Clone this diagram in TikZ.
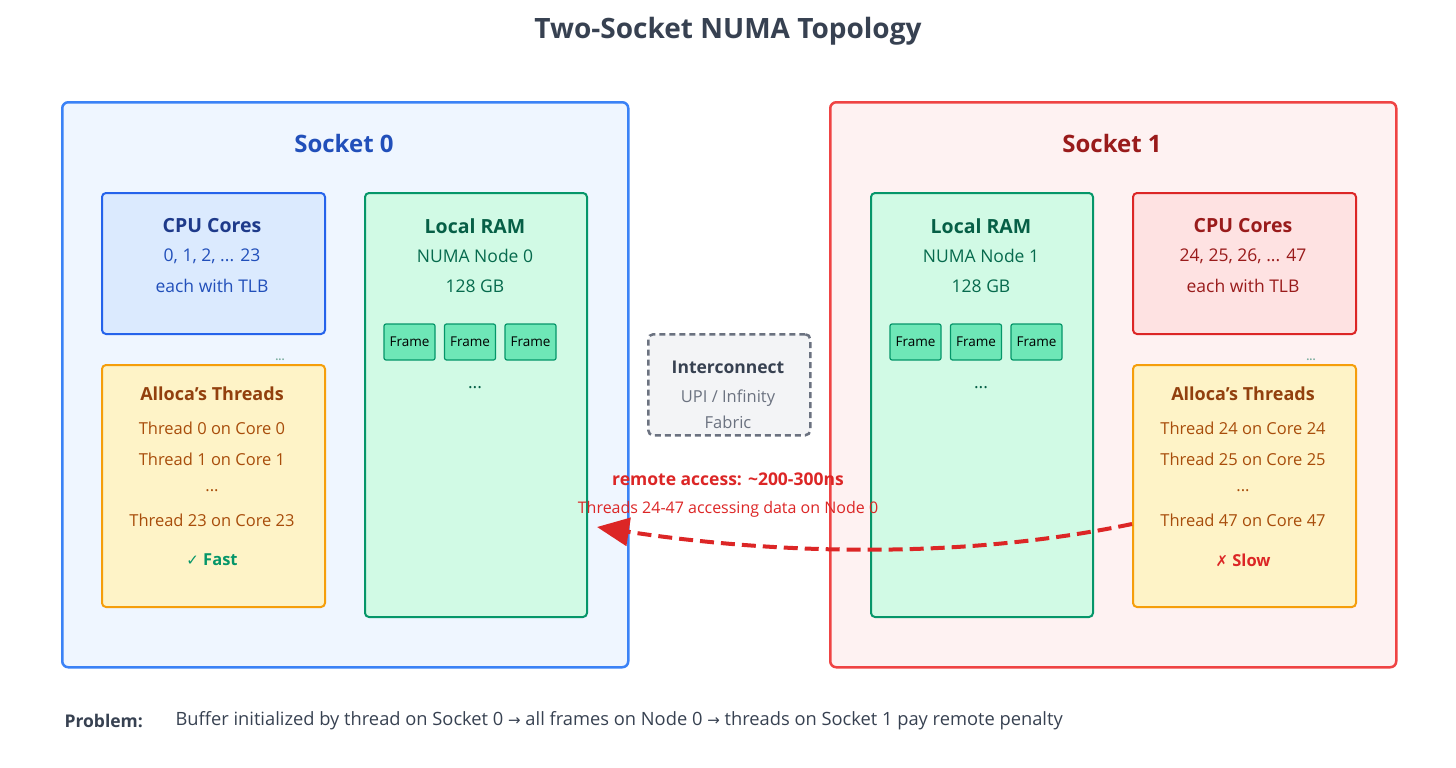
\documentclass[tikz,border=0pt]{standalone}
\usepackage{fontspec}
\setmainfont{Open Sans}
\newfontfamily\symf{DejaVu Sans}
\usetikzlibrary{arrows.meta}
\definecolor{sbB}{HTML}{3B82F6}\definecolor{sfB}{HTML}{EFF6FF}
\definecolor{sbR}{HTML}{EF4444}\definecolor{sfR}{HTML}{FEF2F2}
\definecolor{cbB}{HTML}{2563EB}\definecolor{cfB}{HTML}{DBEAFE}
\definecolor{cbR}{HTML}{DC2626}\definecolor{cfR}{HTML}{FEE2E2}
\definecolor{tb}{HTML}{F59E0B}\definecolor{tf}{HTML}{FEF3C7}
\definecolor{rb}{HTML}{059669}\definecolor{rf}{HTML}{D1FAE5}
\definecolor{ff}{HTML}{6EE7B7}
\definecolor{txB}{HTML}{1E3A8A}\definecolor{txR}{HTML}{991B1B}
\definecolor{txO}{HTML}{92400E}\definecolor{txG}{HTML}{065F46}
\definecolor{gr}{HTML}{6B7280}\definecolor{grf}{HTML}{F3F4F6}
\definecolor{dk}{HTML}{374151}
\newcommand{\fs}[1]{\fontsize{#1}{#1}\selectfont}
\tikzset{
 box/.style={rounded corners=6pt,line width=2.5pt,anchor=north west,inner sep=0pt},
 sub/.style={rounded corners=4pt,line width=2pt,anchor=north west,inner sep=0pt},
 frame/.style={rounded corners=2pt,line width=1.2pt,draw=rb,fill=ff,minimum width=51pt,minimum height=36pt,inner sep=0pt,font=\fs{13.5}},
 ttl/.style={font=\fs{19.5}\bfseries},
 txt/.style={font=\fs{17.5}},
 ttx/.style={font=\fs{16.5}},
}
\begin{document}
\begin{tikzpicture}[x=1pt,y=-1pt]
\useasboundingbox (0,0) rectangle (1456,768);
\node[font=\fs{28}\bfseries,text=dk] (title) at (728,31) {Two-Socket NUMA Topology};
% sockets
\node[box,draw=sbB,fill=sfB,minimum width=566pt,minimum height=565pt] (s0) at (61,101) {};
\node[box,draw=sbR,fill=sfR,minimum width=566pt,minimum height=565pt] (s1) at (829,101) {};
\node[font=\fs{24}\bfseries,text=cbB!50!txB] (s0t) at (344,143) {Socket 0};
\node[font=\fs{24}\bfseries,text=txR] (s1t) at (1112,143) {Socket 1};
% CPU cores
\node[sub,draw=cbB,fill=cfB,minimum width=223pt,minimum height=141pt] (c0) at (101,192) {};
\node[ttl,text=txB] at (212,226) {CPU Cores};
\node[txt,text=cbB!50!txB] at (212,256) {0, 1, 2, ... 23};
\node[txt,text=cbB!50!txB] at (212,286) {each with TLB};
\node[sub,draw=cbR,fill=cfR,minimum width=223pt,minimum height=141pt] (c1) at (1132,192) {};
\node[ttl,text=txR] at (1243,226) {CPU Cores};
\node[txt,text=txR] at (1243,256) {24, 25, 26, ... 47};
\node[txt,text=txR] at (1243,286) {each with TLB};
% threads
\foreach \x/\a/\b/\c/\n in {101/0/1/23/0,1132/24/25/47/1}{
 \node[sub,draw=tb,fill=tf,minimum width=223pt,minimum height=242pt] (t\n) at (\x,364) {};
 \node[font=\fs{18}\bfseries,text=txO] at (\x+111,394) {Alloca's Threads};
 \node[ttx,text=txO!80!orange] at (\x+111,428) {Thread \a\ on Core \a};
 \node[ttx,text=txO!80!orange] at (\x+111,459) {Thread \b\ on Core \b};
 \node[ttx,text=txO!80!orange] at (\x+111,491) {...};
 \node[ttx,text=txO!80!orange] at (\x+111,520) {Thread \c\ on Core \c};
 \node[font=\fs{11}\bfseries,text=rb!50!gray!70] at (\x+179,360) {...};
}
\node[font=\fs{16.5}\bfseries,text=rb] at (212,560) {{\symf\fs{15}✓} Fast};
\node[font=\fs{16.5}\bfseries,text=cbR] at (1243,560) {{\symf\fs{15}✗} Slow};
% RAM
\foreach \x/\n in {364/0,870/1}{
 \node[sub,draw=rb,fill=rf,minimum width=222pt,minimum height=424pt] (r\n) at (\x,192) {};
 \node[ttl,text=txG] at (\x+111,226) {Local RAM};
 \node[txt,text=txG!80!rb] at (\x+111,256) {NUMA Node \n};
 \node[txt,text=txG!80!rb] at (\x+111,286) {128 GB};
 \node[frame] (fa\n) at (\x+45.5,342) {Frame};
 \node[frame] (fb\n) at (\x+106,342) {Frame};
 \node[frame] (fc\n) at (\x+166.5,342) {Frame};
 \node[txt,text=txG] at (\x+111,388) {...};
}
% interconnect
\node[rounded corners=5pt,line width=2.5pt,draw=gr,fill=grf,dash pattern=on 6pt off 4pt,minimum width=162pt,minimum height=101pt,anchor=north west] (ic) at (647,333) {};
\node[font=\fs{17.5}\bfseries,text=dk] at (728,367) {Interconnect};
\node[ttx,text=gr] at (728,398) {UPI / Infinity};
\node[ttx,text=gr] at (728,422) {Fabric};
% remote
\node[font=\fs{17.5}\bfseries,text=cbR] (rt) at (728,479) {remote access: \textasciitilde 200-300ns};
\node[font=\fs{16},text=cbR] (rs) at (728,509) {Threads 24-47 accessing data on Node 0};
\coordinate (aS) at (1132,524);
\coordinate (aE) at (597,527);
\draw[cbR,line width=4pt,dash pattern=on 14pt off 7pt,-{Triangle[length=32pt,width=28pt]}] (aS) .. controls (950,562) and (760,552) .. (aE);
% bottom
\node[font=\fs{17.5}\bfseries,text=dk,anchor=west] (pb) at (61,721) {Problem:};
\node[font=\fs{18.3},text=dk,anchor=west] (pt) at (172,721) {Buffer initialized by thread on Socket 0 {\symf\fs{15}→} all frames on Node 0 {\symf\fs{15}→} threads on Socket 1 pay remote penalty};
\end{tikzpicture}
\end{document}
